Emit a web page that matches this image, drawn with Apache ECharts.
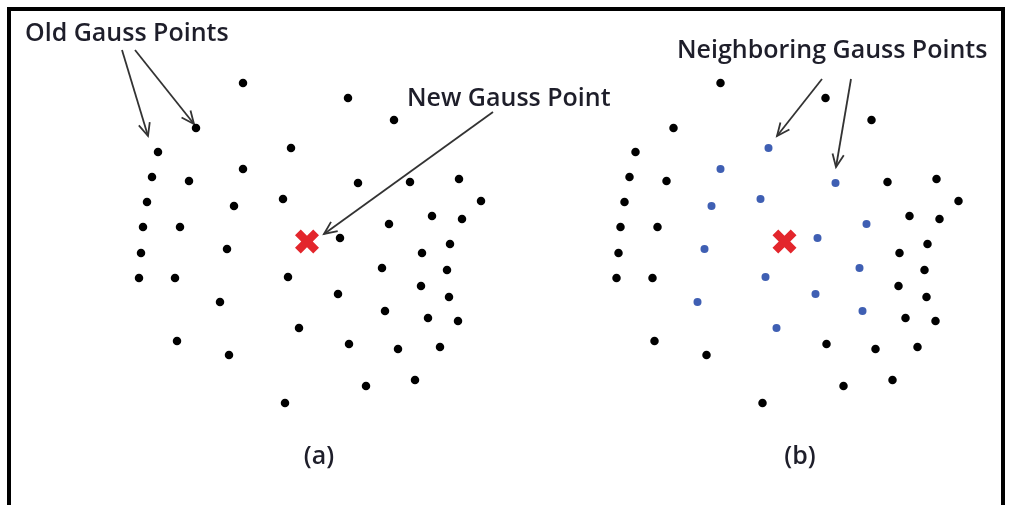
<!DOCTYPE html>
<html><head><meta charset="utf-8">
<script src="https://cdn.jsdelivr.net/npm/echarts@6/dist/echarts.min.js"></script>
<style>html,body{margin:0;padding:0;background:#fff}#c{width:1011px;height:505px}</style>
</head><body><div id="c"></div>
<script>
// Gauss point positions (panel-local schematic units, y grows downward)
const gaussX = [243,196,158,291,243,152,189,147,234,283,143,180,141,227,139,175,288,220,299,177,229,285,
                348,394,358,410,459,481,432,462,389,340,450,422,382,447,421,338,449,385,428,458,349,398,440,366,415];
const gaussY = [83,128,152,148,169,177,181,202,206,199,227,227,253,249,278,278,277,302,328,341,355,403,
                98,120,183,182,179,201,216,219,224,238,244,253,268,270,286,294,297,311,318,321,344,349,347,386,380];
// 1 = neighbouring Gauss point of the new point (panel b)
const isNeighbor = [0,0,0,1,1,0,0,0,1,1,0,0,0,1,0,0,1,1,1,0,0,0,
                    0,0,1,0,0,0,0,0,1,1,0,0,1,0,0,1,0,1,0,0,0,0,0,0,0];
const newPointX = [307];
const newPointY = [241.5];
// arrows: [fromX, fromY, toX, toY]
const arrowsA = [[122,50,148,136],[135,50,194,124],[493,112,324,234]];
const arrowsB = [[344.5,79,299.5,136],[373.5,79,358.5,167]];
const labelsTop = ['Old Gauss Points','New Gauss Point','Neighboring Gauss Points'];
const panelLabels = ['(a)','(b)'];

const pts = gaussX.map((x,i)=>[x,gaussY[i]]);
const ptsBlack = pts.filter((p,i)=>!isNeighbor[i]);
const ptsBlue = pts.filter((p,i)=>isNeighbor[i]);
const cross = newPointX.map((x,i)=>[x,newPointY[i]]);
const crossPath = 'path://M0,2.4 L2.4,0 L5,2.6 L7.6,0 L10,2.4 L7.4,5 L10,7.6 L7.6,10 L5,7.4 L2.4,10 L0,7.6 L2.6,5 Z';

function arrowItem(params, api){
  const p1 = api.coord([api.value(0), api.value(1)]);
  const p2 = api.coord([api.value(2), api.value(3)]);
  const ang = Math.atan2(p2[1]-p1[1], p2[0]-p1[0]);
  const L = 14, a = 0.42;
  const h1 = [p2[0]-L*Math.cos(ang-a), p2[1]-L*Math.sin(ang-a)];
  const h2 = [p2[0]-L*Math.cos(ang+a), p2[1]-L*Math.sin(ang+a)];
  const st = {stroke:'#333', lineWidth:1.8, fill:'none'};
  return {type:'group', children:[
    {type:'line', shape:{x1:p1[0],y1:p1[1],x2:p2[0],y2:p2[1]}, style:st},
    {type:'polyline', shape:{points:[h1,p2,h2]}, style:st}
  ]};
}

const FONT = '600 25px "Open Sans"';
const TXT = '#1e1e2a';
const chart = echarts.init(document.getElementById('c'), null, {renderer:'canvas'});
chart.setOption({
  animation:false,
  backgroundColor:'#fff',
  grid:[{left:0,top:0,width:500,height:505},{left:477.5,top:0,width:500,height:505}],
  xAxis:[{gridIndex:0,type:'value',min:0,max:500,show:false},{gridIndex:1,type:'value',min:0,max:500,show:false}],
  yAxis:[{gridIndex:0,type:'value',min:0,max:505,inverse:true,show:false},{gridIndex:1,type:'value',min:0,max:505,inverse:true,show:false}],
  series:[
    {type:'scatter',xAxisIndex:0,yAxisIndex:0,data:pts,symbolSize:8.5,itemStyle:{color:'#000',opacity:1},silent:true},
    {type:'scatter',xAxisIndex:0,yAxisIndex:0,data:cross,symbol:crossPath,symbolSize:24,itemStyle:{color:'#e3262c',opacity:1},silent:true},
    {type:'custom',xAxisIndex:0,yAxisIndex:0,data:arrowsA,renderItem:arrowItem,encode:{x:[0,2],y:[1,3]},silent:true},
    {type:'scatter',xAxisIndex:1,yAxisIndex:1,data:ptsBlack,symbolSize:8.5,itemStyle:{color:'#000',opacity:1},silent:true},
    {type:'scatter',xAxisIndex:1,yAxisIndex:1,data:ptsBlue,symbolSize:8,itemStyle:{color:'#3f5fb3',opacity:1},silent:true},
    {type:'scatter',xAxisIndex:1,yAxisIndex:1,data:cross,symbol:crossPath,symbolSize:24,itemStyle:{color:'#e3262c',opacity:1},silent:true},
    {type:'custom',xAxisIndex:1,yAxisIndex:1,data:arrowsB,renderItem:arrowItem,encode:{x:[0,2],y:[1,3]},silent:true}
  ],
  graphic:[
    {type:'rect',shape:{x:9,y:9,width:994,height:520},style:{fill:'none',stroke:'#000',lineWidth:4},silent:true},
    {type:'text',x:25,y:34,style:{text:labelsTop[0],font:FONT,fill:TXT,align:'left',verticalAlign:'middle'}},
    {type:'text',x:407,y:99,style:{text:labelsTop[1],font:FONT,fill:TXT,align:'left',verticalAlign:'middle'}},
    {type:'text',x:677,y:51,style:{text:labelsTop[2],font:FONT,fill:TXT,align:'left',verticalAlign:'middle'}},
    {type:'text',x:319,y:457,style:{text:panelLabels[0],font:FONT,fill:TXT,align:'center',verticalAlign:'middle'}},
    {type:'text',x:800,y:457,style:{text:panelLabels[1],font:FONT,fill:TXT,align:'center',verticalAlign:'middle'}}
  ]
});
</script></body></html>
